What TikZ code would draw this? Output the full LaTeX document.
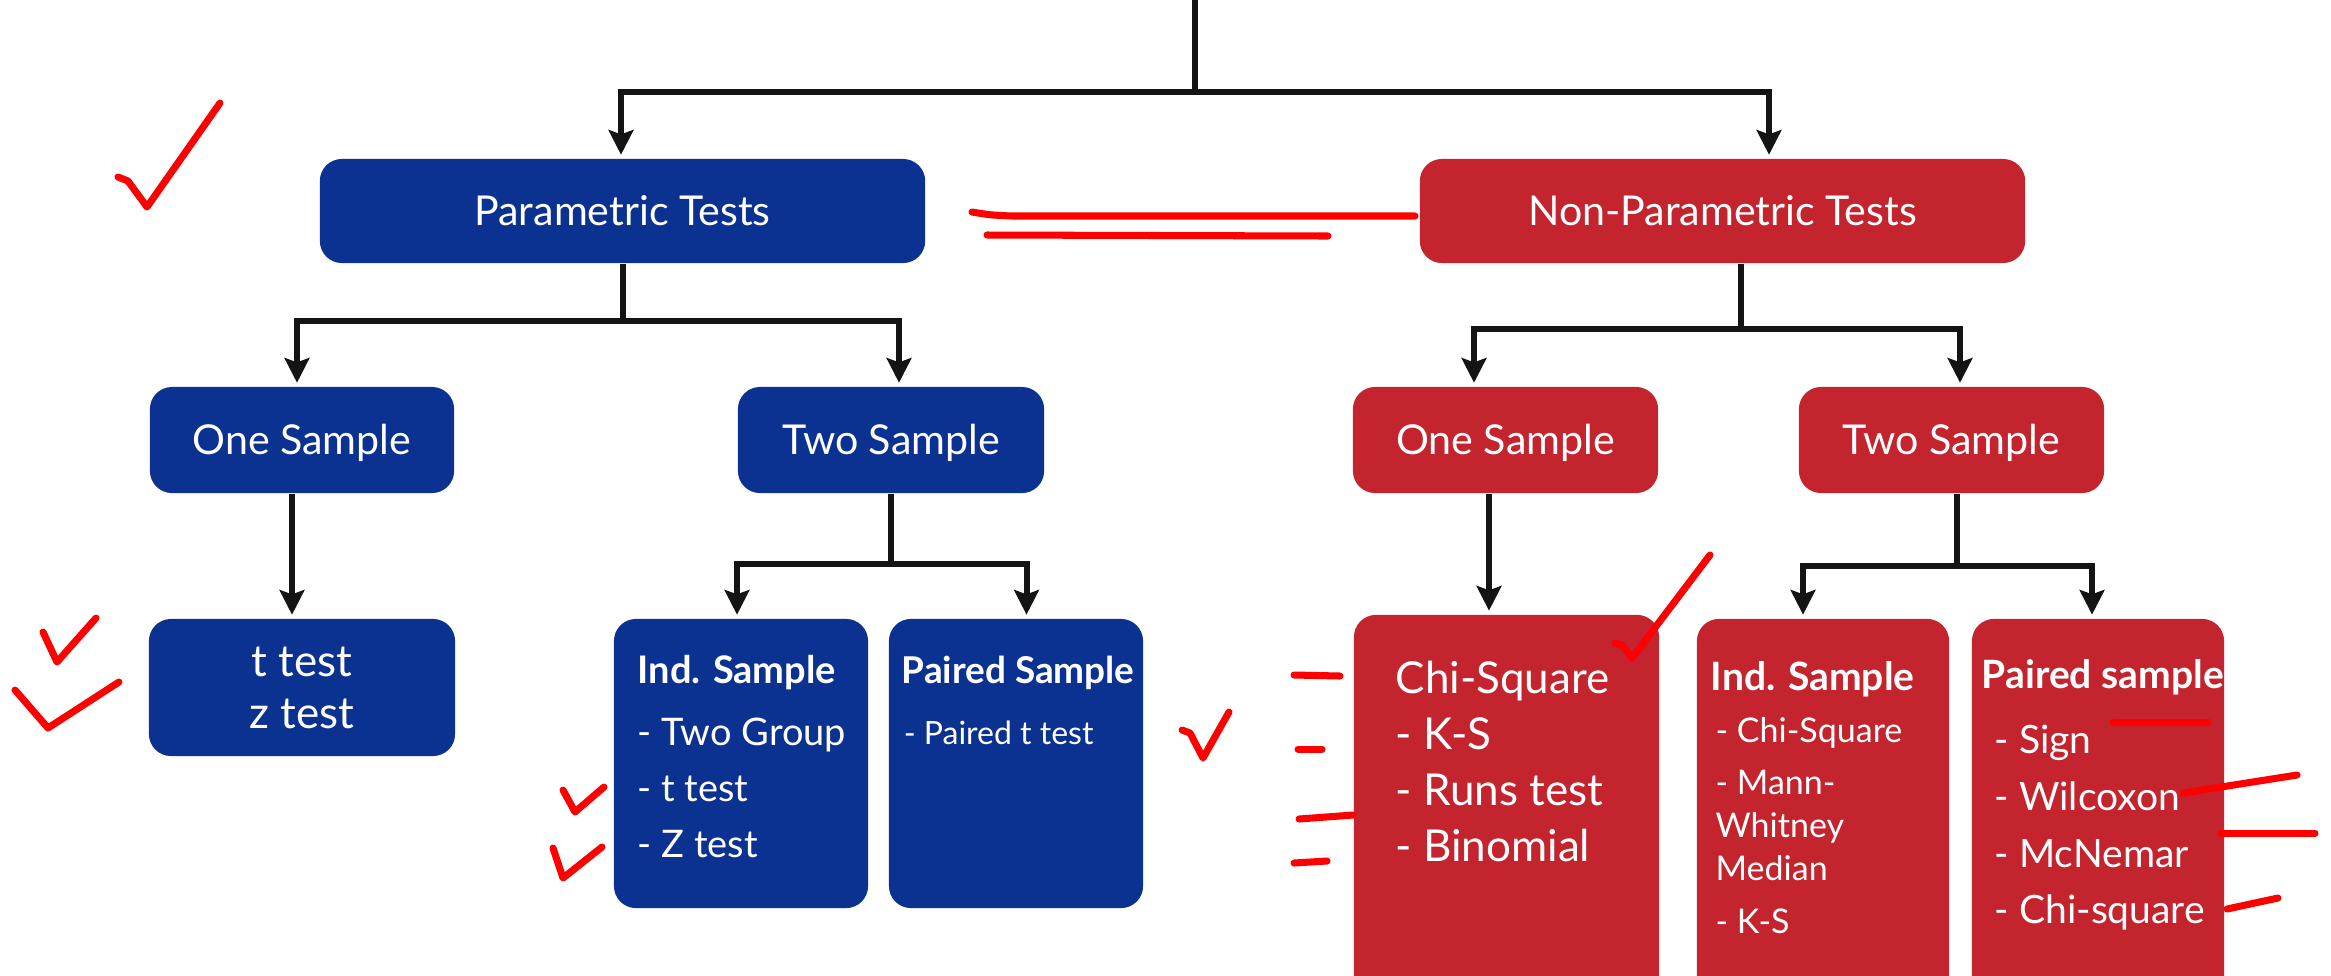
\documentclass[tikz,border=0pt]{standalone}
\usepackage{fontspec}
\setmainfont{Lato}
\usetikzlibrary{arrows.meta,calc}
\definecolor{pblue}{RGB}{12,50,145}
\definecolor{npred}{RGB}{196,36,46}
\newcommand\ttlfont{\fontsize{11.7pt}{14pt}\selectfont}
\newcommand\rowsl[1]{\begin{tabular}[t]{@{}l@{}}#1\end{tabular}}
\tikzset{
  box/.style={rectangle, rounded corners=0.22cm, inner sep=0pt, text=white},
  bluebox/.style={box, fill=pblue},
  redbox/.style={box, fill=npred},
  title/.style={font=\ttlfont, text height=8.4pt, text depth=0pt},
  conn/.style={draw=black!92, line width=1.7pt},
  arr/.style={conn, -{Stealth[length=7pt,width=7pt,inset=1.2pt]}, shorten >=1pt},
  txt/.style={inner sep=0pt, text=white, anchor=base west},
  pen/.style={draw=red, line width=2pt, line cap=round, line join=round}
}
\begin{document}
\begin{tikzpicture}[x=0.01cm,y=-0.01cm]
\useasboundingbox (0,0) rectangle (2331,975);
\clip (0,0) rectangle (2331,975);

% ---------- first level ----------
\node[bluebox, title, minimum width=6.05cm, minimum height=1.04cm] (param) at (622.5,211) {Parametric Tests};
\node[redbox, title, minimum width=6.05cm, minimum height=1.04cm] (nonparam) at (1722.5,211) {Non-Parametric Tests};

% ---------- second level ----------
\node[bluebox, title, minimum width=3.04cm, minimum height=1.06cm] (bone) at (302,440) {One Sample};
\node[bluebox, title, minimum width=3.06cm, minimum height=1.06cm] (btwo) at (891,440) {Two Sample};
\node[redbox, title, minimum width=3.05cm, minimum height=1.06cm] (rone) at (1505.5,440) {One Sample};
\node[redbox, title, minimum width=3.05cm, minimum height=1.06cm] (rtwo) at (1951.5,440) {Two Sample};

% ---------- third level ----------
\node[bluebox, minimum width=3.06cm, minimum height=1.37cm, align=center,
      font=\fontsize{12.5pt}{14.8pt}\selectfont] (tz) at (302,687.5) {t test\\z test};
\node[bluebox, minimum width=2.54cm, minimum height=2.89cm] (bind) at (741,763.5) {};
\node[bluebox, minimum width=2.54cm, minimum height=2.89cm] (bpair) at (1016,763.5) {};
\node[redbox, minimum width=3.05cm, minimum height=4.0cm] (rchi) at (1506.5,815) {};
\node[redbox, minimum width=2.52cm, minimum height=4.0cm] (rind) at (1823,819) {};
\node[redbox, minimum width=2.52cm, minimum height=4.0cm] (rpair) at (2098,819) {};

% box contents
\node[txt, font=\fontsize{10.8pt}{15.93pt}\selectfont] (bindtxt) at (637,683)
  {\rowsl{\textbf{Ind. Sample}\\[1.7pt] - Two Group\\ - t test\\ - Z test}};
\node[txt, font=\fontsize{10.5pt}{17.6pt}\selectfont] (bpairtxt) at (901,683)
  {\rowsl{\textbf{Paired Sample}\\ {\fontsize{9.1pt}{11pt}\selectfont\kern0.6pt - Paired t test}}};
\node[txt, font=\fontsize{12.5pt}{16pt}\selectfont] (rchitxt) at (1395,693)
  {\rowsl{Chi-Square\\ - K-S\\ - Runs test\\ - Binomial}};
\node[txt, font=\fontsize{9.67pt}{14.8pt}\selectfont] (rindtxt) at (1710,690)
  {\rowsl{{\fontsize{11.1pt}{13pt}\selectfont\bfseries Ind. Sample}\\
   \kern1.4pt - Chi-Square\\ \kern1.4pt - Mann-\\[-2.5pt] \kern1.4pt Whitney\\[-2.4pt] \kern1.4pt Median\\ \kern1.4pt - K-S}};
\node[txt, font=\fontsize{11.1pt}{16.2pt}\selectfont] (rpairtxt) at (1981,688)
  {\rowsl{\textbf{Paired sample}\\[2.3pt] \kern3.7pt - Sign\\ \kern3.7pt - Wilcoxon\\ \kern3.7pt - McNemar\\ \kern3.7pt - Chi-square}};

% ---------- connectors ----------
\coordinate (rootend) at (1195,0);
\coordinate (split) at (1195,92);
\draw[conn] (rootend) -- (split);
\draw[arr] (split) -| ($(param.north)+(-1.5,0)$);
\draw[arr] (split) -| ($(nonparam.north)+(46.5,0)$);

\draw[conn] (param.south) -- ++(0,57) coordinate (pj);
\draw[arr] (pj) -| ($(bone.north)+(-5,0)$);
\draw[arr] (pj) -| ($(btwo.north)+(8,0)$);

\draw[conn] ($(nonparam.south)+(18.5,0)$) -- ++(0,65) coordinate (nj);
\draw[arr] (nj) -| ($(rone.north)+(-31.5,0)$);
\draw[arr] (nj) -| ($(rtwo.north)+(8.5,0)$);

\draw[arr] ($(bone.south)+(-10,0)$) -- ($(tz.north)+(-10,0)$);

\draw[conn] (btwo.south) -- ++(0,70) coordinate (bj);
\draw[arr] (bj) -| ($(bind.north)+(-4,0)$);
\draw[arr] (bj) -| ($(bpair.north)+(10.5,0)$);

\draw[arr] ($(rone.south)+(-16.5,0)$) -- ($(rchi.north)+(-17.5,0)$);

\draw[conn] ($(rtwo.south)+(5.5,0)$) -- ++(0,72) coordinate (rj);
\draw[arr] (rj) -| ($(rind.north)+(-20,0)$);
\draw[arr] (rj) -| ($(rpair.north)+(-6,0)$);

% ---------- red pen marks ----------
\draw[pen] (118,177) -- (128,181) -- (147,207) -- (220,103);
\draw[pen] (972,212) .. controls (990,215) .. (1012,216) -- (1415,216);
\draw[pen] (987,235) -- (1328,236);
\draw[pen] (43,632) -- (57,662) -- (96,618);
\draw[pen] (15,690) -- (48,728) -- (119,682);
\draw[pen] (563,790) -- (575,812) -- (604,787);
\draw[pen] (553,848) -- (563,878) -- (602,847);
\draw[pen] (1182,730) -- (1190,733) -- (1203,758) -- (1229,712);
\draw[pen] (1615,643) -- (1622,645) -- (1632,658) -- (1710,555);
\draw[pen] (1294,675) -- (1340,676);
\draw[pen] (1298,749) -- (1322,749);
\draw[pen] (1299,819) -- (1353,815);
\draw[pen] (1294,863) -- (1327,861);
\draw[pen] (2113,722) -- (2208,722);
\draw[pen] (2183,793) -- (2297,775);
\draw[pen] (2221,833) -- (2315,833);
\draw[pen] (2227,909) -- (2278,898);
\end{tikzpicture}
\end{document}
